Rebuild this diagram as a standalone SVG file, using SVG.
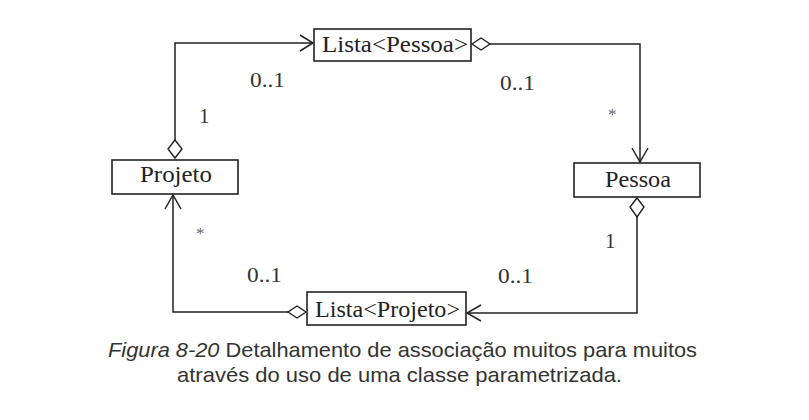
<svg xmlns="http://www.w3.org/2000/svg" width="809" height="420" viewBox="0 0 809 420">
<style>
.box{fill:#fff;stroke:#222;stroke-width:1.6}
.lbl{font-family:"Liberation Serif","Times New Roman",serif;font-size:23px;fill:#222}
.mul{font-family:"Liberation Serif","Times New Roman",serif;font-size:21px;fill:#333}
.ast{font-family:"Liberation Serif","Times New Roman",serif;font-size:17px;fill:#666}
.ln{fill:none;stroke:#222;stroke-width:1.5}
.dia{fill:#fff;stroke:#222;stroke-width:1.4}
.cap{font-family:"Liberation Sans",Arial,sans-serif;font-size:21px;fill:#333}
</style>
<rect width="809" height="420" fill="#fff"/>
<g id="connectors">
  <path class="ln" d="M175,140 V43 H313"/>
  <path class="ln" d="M300,35 L313,43 L300,51"/>
  <polygon class="dia" points="175,140 182,149 175,158 168,149"/>
  <path class="ln" d="M490,44 H640 V162"/>
  <path class="ln" d="M632,148 L640,162 L648,148"/>
  <polygon class="dia" points="472,44 481,38 490,44 481,50"/>
  <path class="ln" d="M637,217 V313 H467"/>
  <path class="ln" d="M481,305 L467,313 L481,321"/>
  <polygon class="dia" points="637,198 644,207 637,217 630,207"/>
  <path class="ln" d="M288,312 H173 V195"/>
  <path class="ln" d="M165,209 L173,195 L181,209"/>
  <polygon class="dia" points="306,312 297,318 288,312 297,306"/>
</g>
<g id="lista-pessoa">
  <rect class="box" x="314" y="29" width="157" height="32"/>
  <text class="lbl" x="322" y="52" textLength="146" lengthAdjust="spacingAndGlyphs">Lista&lt;Pessoa&gt;</text>
</g>
<g id="projeto">
  <rect class="box" x="112" y="160" width="126" height="34"/>
  <text class="lbl" x="140" y="182" textLength="72" lengthAdjust="spacingAndGlyphs">Projeto</text>
</g>
<g id="pessoa">
  <rect class="box" x="574" y="163" width="126" height="34"/>
  <text class="lbl" x="605" y="187" textLength="66" lengthAdjust="spacingAndGlyphs">Pessoa</text>
</g>
<g id="lista-projeto">
  <rect class="box" x="307" y="292" width="159" height="33"/>
  <text class="lbl" x="315" y="317" textLength="145" lengthAdjust="spacingAndGlyphs">Lista&lt;Projeto&gt;</text>
</g>
<g id="multiplicities">
  <text class="mul" x="250" y="87" textLength="35" lengthAdjust="spacingAndGlyphs">0..1</text>
  <text class="mul" x="199" y="123">1</text>
  <text class="mul" x="500" y="90" textLength="35" lengthAdjust="spacingAndGlyphs">0..1</text>
  <text class="ast" x="608" y="120">*</text>
  <text class="mul" x="605" y="248">1</text>
  <text class="ast" x="196" y="239">*</text>
  <text class="mul" x="247" y="282" textLength="35" lengthAdjust="spacingAndGlyphs">0..1</text>
  <text class="mul" x="498" y="283" textLength="35" lengthAdjust="spacingAndGlyphs">0..1</text>
</g>
<g id="caption">
  <text class="cap" x="108" y="357" textLength="589" lengthAdjust="spacingAndGlyphs"><tspan font-style="italic">Figura 8-20</tspan> Detalhamento de associação muitos para muitos</text>
  <text class="cap" x="177" y="382" textLength="445" lengthAdjust="spacingAndGlyphs">através do uso de uma classe parametrizada.</text>
</g>
</svg>
